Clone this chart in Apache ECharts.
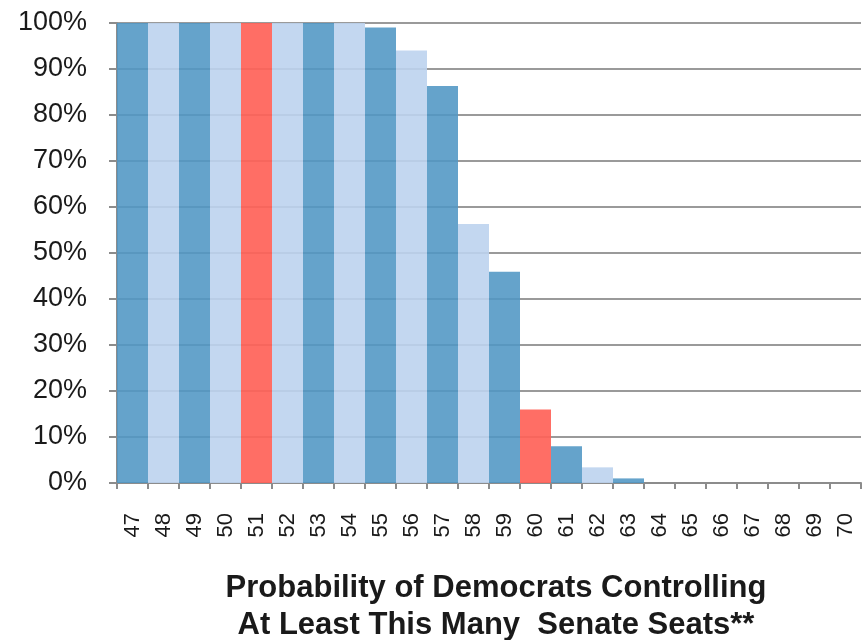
<!DOCTYPE html>
<html>
<head>
<meta charset="utf-8">
<script src="https://cdn.jsdelivr.net/npm/echarts@6/dist/echarts.min.js"></script>
<style>
  html, body { margin: 0; padding: 0; background: #fff; }
  #chart { width: 862px; height: 640px; }
</style>
</head>
<body>
<div id="chart"></div>
<script>
// Senate seat counts (categories)
const seats = ['47','48','49','50','51','52','53','54','55','56','57','58',
               '59','60','61','62','63','64','65','66','67','68','69','70'];
// Probability (%) of holding at least this many seats
const probability = [100, 100, 100, 100, 100, 100, 100, 100, 99, 94, 86.3, 56.3,
                     45.9, 16, 8, 3.4, 1, 0, 0, 0, 0, 0, 0, 0];
// Seat counts that are highlighted
const highlighted = ['51', '60'];

const DARK = 'rgba(80,150,196,0.88)';
const LIGHT = 'rgba(188,211,238,0.9)';
const RED = 'rgba(255,98,88,0.92)';
const FONT = 'Liberation Sans, Arial, sans-serif';

const chart = echarts.init(document.getElementById('chart'));
chart.setOption({
  animation: false,
  grid: { left: 117, right: 1, top: 23, bottom: 157 },
  title: {
    text: 'Probability of Democrats Controlling\nAt Least This Many  Senate Seats**',
    left: 491, textAlign: 'center', top: 565,
    textStyle: { fontFamily: FONT, fontSize: 31, fontWeight: 'bold',
                 color: '#1a1a1a', lineHeight: 37 }
  },
  xAxis: {
    type: 'category',
    data: seats,
    axisLine: { lineStyle: { color: '#8c8c8c', width: 2 } },
    axisTick: { show: true, length: 6, lineStyle: { color: '#8c8c8c', width: 2 } },
    axisLabel: { rotate: 90, margin: 30, fontFamily: FONT, fontSize: 22,
                 color: '#1a1a1a', interval: 0 }
  },
  yAxis: {
    type: 'value', min: 0, max: 100, interval: 10,
    axisLine: { show: true, lineStyle: { color: '#8c8c8c', width: 2 } },
    axisTick: { show: true, length: 8, lineStyle: { color: '#8c8c8c', width: 2 } },
    axisLabel: { formatter: '{value}%', margin: 30, fontFamily: FONT,
                 fontSize: 27, color: '#1a1a1a' },
    splitLine: { lineStyle: { color: '#9a9a9a', width: 2 } }
  },
  series: [{
    type: 'bar',
    barCategoryGap: '0%',
    data: probability.map((v, i) => ({
      value: v,
      itemStyle: {
        color: highlighted.includes(seats[i]) ? RED : (i % 2 === 0 ? DARK : LIGHT)
      }
    }))
  }]
});
</script>
</body>
</html>
